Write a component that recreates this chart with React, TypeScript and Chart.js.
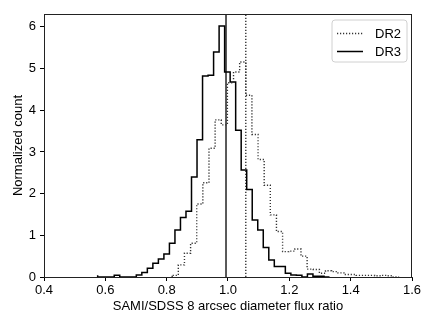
import React, { useEffect, useRef } from "react";
import { Chart, registerables } from "chart.js";

Chart.register(...registerables);

// ---- data ----
const X_TICKS = [0.4, 0.6, 0.8, 1.0, 1.2, 1.4, 1.6];
const Y_TICKS = [0, 1, 2, 3, 4, 5, 6];
const X_MIN = 0.4;
const X_MAX = 1.6;
const Y_MAX = 6.31;

// DR3 histogram (solid)
const DR3_FIRST_EDGE = 0.575;
const DR3_BIN_WIDTH = 0.018;
const DR3_VALUES = [
  0.04, 0, 0, 0, 0.04, 0, 0, 0, 0.05, 0.11, 0.21, 0.33, 0.43, 0.55, 0.81,
  1.13, 1.43, 1.58, 2.4, 3.29, 4.82, 4.84, 5.4, 6.02, 4.92, 4.68, 3.52, 2.57,
  2.1, 1.37, 1.13, 0.71, 0.41, 0.25, 0.25, 0.09, 0.05, 0.04, 0, 0.07, 0.02,
  0.02,
];

// DR2 histogram (dotted)
const DR2_FIRST_EDGE = 0.818;
const DR2_BIN_WIDTH = 0.02;
const DR2_VALUES = [
  0.05, 0.04, 0.29, 0.57, 0.81, 1.75, 2.26, 3.09, 3.77, 3.65, 4.66, 4.92,
  5.16, 4.36, 3.42, 2.82, 2.2, 1.49, 1.09, 0.61, 0.62, 0.67, 0.5, 0.19, 0.18,
  0.09, 0.15, 0.13, 0.1, 0.06, 0.06, 0.04, 0.04, 0.04, 0.03, 0.04, 0.03,
];

const DR3_MEDIAN = 0.9935;
const DR2_MEDIAN = 1.058;

const LEGEND_LABELS = ["DR2", "DR3"];
const X_TITLE = "SAMI/SDSS 8 arcsec diameter flux ratio";
const Y_TITLE = "Normalized count";

const FONT = "'Liberation Sans', Arial, Helvetica, sans-serif";
const DOT = [1.2, 1.8];

function stepPoints(first: number, width: number, values: number[]) {
  const pts: { x: number; y: number }[] = [{ x: first, y: 0 }];
  values.forEach((v, i) => pts.push({ x: first + i * width, y: v }));
  pts.push({ x: first + values.length * width, y: 0 });
  return pts;
}

const framePlugin = {
  id: "frameAndLegend",
  afterDraw(chart: any) {
    const { ctx, chartArea } = chart;
    const { left, right, top, bottom } = chartArea;
    ctx.save();
    // box spines
    ctx.strokeStyle = "#222";
    ctx.lineWidth = 1;
    ctx.setLineDash([]);
    ctx.strokeRect(left + 0.5, top + 0.5, right - left - 1, bottom - top);
    // legend
    const bx = 332, by = 20, bw = 75, bh = 42, r = 3;
    ctx.beginPath();
    ctx.moveTo(bx + r, by);
    ctx.lineTo(bx + bw - r, by);
    ctx.arcTo(bx + bw, by, bx + bw, by + r, r);
    ctx.lineTo(bx + bw, by + bh - r);
    ctx.arcTo(bx + bw, by + bh, bx + bw - r, by + bh, r);
    ctx.lineTo(bx + r, by + bh);
    ctx.arcTo(bx, by + bh, bx, by + bh - r, r);
    ctx.lineTo(bx, by + r);
    ctx.arcTo(bx, by, bx + r, by, r);
    ctx.closePath();
    ctx.fillStyle = "rgba(255,255,255,0.8)";
    ctx.fill();
    ctx.strokeStyle = "#d0d0d0";
    ctx.lineWidth = 1;
    ctx.stroke();

    const rows = [33.5, 51.5];
    ctx.font = `13px ${FONT}`;
    ctx.textBaseline = "middle";
    ctx.textAlign = "left";
    ctx.fillStyle = "#000";
    rows.forEach((y, i) => {
      ctx.beginPath();
      ctx.setLineDash(i === 0 ? DOT : []);
      ctx.strokeStyle = i === 0 ? "#333" : "#000";
      ctx.lineWidth = 1.5;
      ctx.moveTo(337, y);
      ctx.lineTo(363, y);
      ctx.stroke();
      ctx.setLineDash([]);
      ctx.fillText(LEGEND_LABELS[i], 375, y + 0.5);
    });
    ctx.restore();
  },
};

export default function App() {
  const ref = useRef<HTMLCanvasElement | null>(null);

  useEffect(() => {
    document.body.style.margin = "0";
    const canvas = ref.current;
    if (!canvas) return;
    Chart.defaults.font.family = FONT;
    Chart.defaults.font.size = 13;
    Chart.defaults.color = "#000";

    const chart = new Chart(canvas, {
      type: "line",
      data: {
        datasets: [
          {
            label: LEGEND_LABELS[0],
            data: stepPoints(DR2_FIRST_EDGE, DR2_BIN_WIDTH, DR2_VALUES),
            borderColor: "#333",
            borderWidth: 1.4,
            borderDash: DOT,
            stepped: "after",
            pointRadius: 0,
            fill: false,
          },
          {
            label: LEGEND_LABELS[1],
            data: stepPoints(DR3_FIRST_EDGE, DR3_BIN_WIDTH, DR3_VALUES),
            borderColor: "#000",
            borderWidth: 1.5,
            stepped: "after",
            pointRadius: 0,
            fill: false,
          },
          {
            label: "DR2 median",
            data: [
              { x: DR2_MEDIAN, y: 0 },
              { x: DR2_MEDIAN, y: Y_MAX },
            ],
            borderColor: "#333",
            borderWidth: 1.4,
            borderDash: DOT,
            pointRadius: 0,
          },
          {
            label: "DR3 median",
            data: [
              { x: DR3_MEDIAN, y: 0 },
              { x: DR3_MEDIAN, y: Y_MAX },
            ],
            borderColor: "#000",
            borderWidth: 1.3,
            pointRadius: 0,
          },
        ],
      },
      options: {
        animation: false,
        responsive: false,
        events: [],
        layout: { padding: { left: 0, right: 24, top: 14, bottom: 0 } },
        plugins: {
          legend: { display: false },
          tooltip: { enabled: false },
        },
        scales: {
          x: {
            type: "linear",
            min: X_MIN,
            max: X_MAX,
            afterFit: (s: any) => {
              s.height = 50;
            },
            afterBuildTicks: (s: any) => {
              s.ticks = X_TICKS.map((v) => ({ value: v }));
            },
            ticks: {
              padding: 2,
              maxRotation: 0,
              autoSkip: false,
              color: "#000",
              font: { size: 13, family: FONT },
              callback: (v: any) => Number(v).toFixed(1),
            },
            grid: {
              display: true,
              drawOnChartArea: false,
              drawTicks: true,
              tickLength: 4,
              color: "#000",
            },
            border: { display: true, color: "#222", width: 1 },
            title: {
              display: true,
              text: X_TITLE,
              color: "#000",
              font: { size: 13, family: FONT },
              padding: { top: 0, bottom: 13 },
            },
          },
          y: {
            type: "linear",
            min: 0,
            max: Y_MAX,
            afterFit: (s: any) => {
              s.width = 44;
            },
            afterBuildTicks: (s: any) => {
              s.ticks = Y_TICKS.map((v) => ({ value: v }));
            },
            ticks: {
              padding: 4,
              color: "#000",
              font: { size: 13, family: FONT },
              callback: (v: any) => String(v),
            },
            grid: {
              display: true,
              drawOnChartArea: false,
              drawTicks: true,
              tickLength: 4,
              color: "#000",
            },
            border: { display: true, color: "#222", width: 1 },
            title: {
              display: true,
              text: Y_TITLE,
              color: "#000",
              font: { size: 13, family: FONT },
              padding: { top: 11, bottom: 0 },
            },
          },
        },
      },
      plugins: [framePlugin],
    });
    return () => chart.destroy();
  }, []);

  return (
    <div style={{ width: 436, height: 327 }}>
      <canvas ref={ref} width={436} height={327} style={{ display: "block" }} />
    </div>
  );
}
